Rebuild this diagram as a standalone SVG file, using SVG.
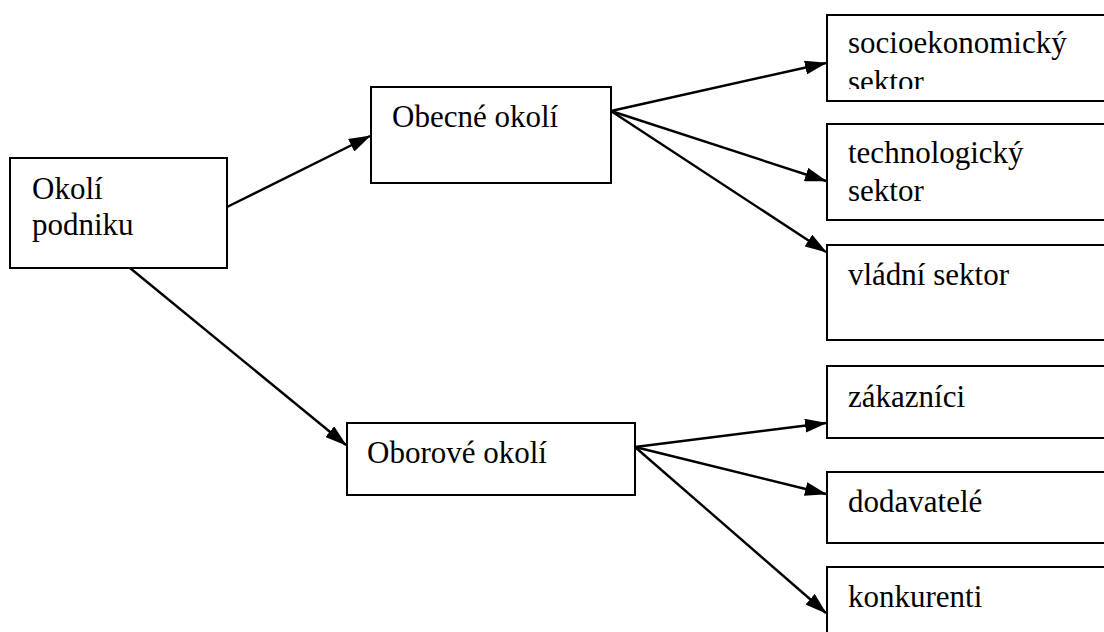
<svg xmlns="http://www.w3.org/2000/svg" width="1104" height="632" viewBox="0 0 1104 632">
<style>
.box{fill:#fff;stroke:#000;stroke-width:2}
text{font-size:31px;fill:#000}
.c{stroke:#000;stroke-width:2.4;fill:none;marker-end:url(#ah)}
</style>
<defs>
<marker id="ah" markerWidth="22" markerHeight="14" refX="21" refY="7" orient="auto" markerUnits="userSpaceOnUse">
<path d="M0,0 L22,7 L0,14 z" fill="#000"/>
</marker>
<clipPath id="clipSocio"><rect x="828" y="16" width="300" height="73"/></clipPath>
</defs>
<rect width="1104" height="632" fill="#fff"/>
<g id="connectors">
<line class="c" x1="227" y1="207" x2="370" y2="136"/>
<line class="c" x1="130" y1="268" x2="346" y2="445"/>
<line class="c" x1="611" y1="111" x2="826" y2="63"/>
<line class="c" x1="611" y1="111" x2="826" y2="181"/>
<line class="c" x1="611" y1="111" x2="826" y2="252"/>
<line class="c" x1="635" y1="447" x2="826" y2="423"/>
<line class="c" x1="635" y1="447" x2="826" y2="494"/>
<line class="c" x1="635" y1="447" x2="826" y2="613"/>
</g>
<g id="okoli-podniku">
<rect class="box" x="10" y="158" width="217" height="110"/>
<text x="32" y="199" font-family="serif">Okolí</text>
<text x="32" y="235" font-family="serif">podniku</text>
</g>
<g id="obecne-okoli">
<rect class="box" x="371" y="87" width="240" height="96"/>
<text x="392" y="127" font-family="serif">Obecné okolí</text>
</g>
<g id="oborove-okoli">
<rect class="box" x="347" y="423" width="288" height="72"/>
<text x="367" y="463" font-family="serif">Oborové okolí</text>
</g>
<g id="socioekonomicky">
<rect class="box" x="827" y="15" width="300" height="86"/>
<g clip-path="url(#clipSocio)">
<text x="848" y="53" font-family="serif">socioekonomický</text>
<text x="848" y="92" font-family="serif">sektor</text>
</g>
</g>
<g id="technologicky">
<rect class="box" x="827" y="124" width="300" height="96"/>
<text x="848" y="163" font-family="serif">technologický</text>
<text x="848" y="201" font-family="serif">sektor</text>
</g>
<g id="vladni">
<rect class="box" x="827" y="245" width="300" height="95"/>
<text x="848" y="285" font-family="serif">vládní sektor</text>
</g>
<g id="zakaznici">
<rect class="box" x="827" y="366" width="300" height="72"/>
<text x="848" y="407" font-family="serif">zákazníci</text>
</g>
<g id="dodavatele">
<rect class="box" x="827" y="472" width="300" height="71"/>
<text x="848" y="512" font-family="serif">dodavatelé</text>
</g>
<g id="konkurenti">
<rect class="box" x="827" y="567" width="300" height="100"/>
<text x="848" y="607" font-family="serif">konkurenti</text>
</g>
</svg>
